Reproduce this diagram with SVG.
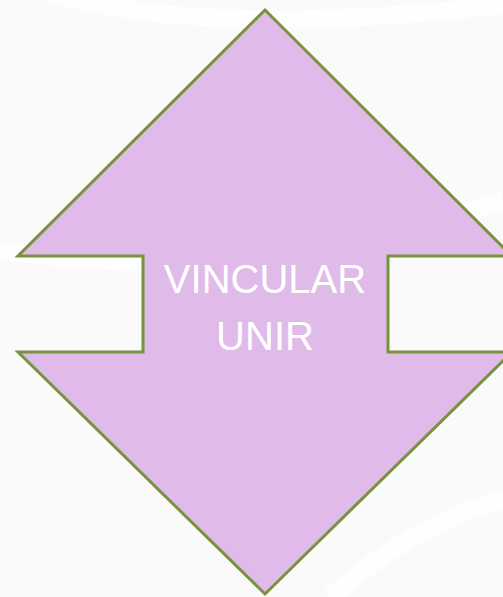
<svg xmlns="http://www.w3.org/2000/svg" width="503" height="597" viewBox="0 0 503 597">
  <style>
    .bg { fill: #fafafa; }
    .swirl { fill: none; stroke: #ffffff; stroke-width: 18; opacity: 0.8; }
    .arrow { fill: #e0bbea; stroke: #77933c; stroke-width: 3; stroke-linejoin: miter; }
    .label { fill: #ffffff; font-family: "Liberation Sans", "DejaVu Sans", sans-serif; font-size: 40px; text-anchor: middle; }
  </style>
  <rect class="bg" x="0" y="0" width="503" height="597"/>
  <path class="swirl" d="M 40 -10 Q 200 40 503 5"/>
  <path class="swirl" d="M 0 250 Q 250 290 503 200"/>
  <path class="swirl" d="M 330 597 Q 420 520 503 500"/>
  <g id="node-updown-arrow">
    <polygon class="arrow" points="265,10 512,256 388,256 388,352 512,352 265,594 18,352 143,352 143,256 18,256"/>
    <text class="label" x="265" y="293">VINCULAR</text>
    <text class="label" x="265" y="350">UNIR</text>
  </g>
  <g id="connectors"></g>
</svg>
